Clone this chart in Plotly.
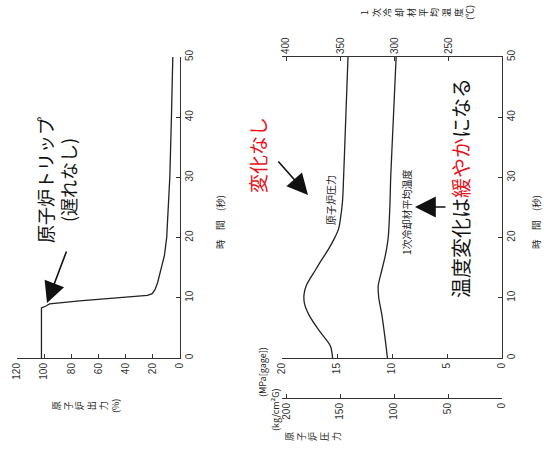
import plotly.graph_objects as go

# --- data -------------------------------------------------------------
# Reactor power (%) after trip
time_power = [0, 8.3, 8.6, 9.0, 9.5, 10.0, 10.4, 10.7, 11.3, 12.5, 14.5, 17, 20, 25, 30, 40, 50]
power_pct = [102, 102, 99, 96, 74, 47, 24, 20.5, 18.5, 16.5, 14.5, 11.5, 9.8, 8.5, 7.5, 6.3, 5.3]

# Reactor pressure (MPa[gage])
time_press = [0, 2, 4.5, 7, 9, 10.5, 12, 14.5, 16, 18, 20, 21.5, 23, 26, 30, 40, 50]
press_mpa = [15.4, 15.6, 16.6, 17.5, 17.95, 18.0, 17.8, 17.0, 16.5, 15.8, 15.2, 14.85, 14.7, 14.5, 14.4, 14.2, 14.0]

# Primary coolant average temperature (deg C)
time_temp = [0, 3, 7, 10, 12, 14, 17, 20, 25, 30, 40, 50]
temp_c = [306.5, 308.5, 311.5, 314.5, 315, 312.5, 308.5, 305.8, 304.3, 303.5, 301, 298.5]

time_ticks = [0, 10, 20, 30, 40, 50]
power_ticks = [0, 20, 40, 60, 80, 100, 120]
mpa_ticks = [0, 5, 10, 15, 20]
kg_ticks = [0, 50, 100, 150, 200]
temp_ticks = [200, 250, 300, 350, 400]

W, H = 544, 451
def px(x):
    return x / W
def py(y):
    return 1 - y / H

AX = "#333333"
TICKFONT = dict(family="Liberation Sans", size=10, color="#333333")
JP = "Noto Sans CJK JP"

fig = go.Figure()
fig.add_trace(go.Scatter(x=power_pct, y=time_power, xaxis="x", yaxis="y", mode="lines",
                         line=dict(color="#222222", width=1.3), hoverinfo="skip"))
fig.add_trace(go.Scatter(x=press_mpa, y=time_press, xaxis="x2", yaxis="y2", mode="lines",
                         line=dict(color="#222222", width=1.3, shape="spline", smoothing=0.8), hoverinfo="skip"))
fig.add_trace(go.Scatter(x=temp_c, y=time_temp, xaxis="x4", yaxis="y2", mode="lines",
                         line=dict(color="#222222", width=1.3, shape="spline", smoothing=0.8), hoverinfo="skip"))
# invisible trace so the kg/cm2G axis is drawn
fig.add_trace(go.Scatter(x=[100], y=[25], xaxis="x3", yaxis="y2", mode="markers",
                         marker=dict(opacity=0), hoverinfo="skip"))

common_x = dict(showline=True, linecolor=AX, linewidth=1, ticks="inside", ticklen=4, tickcolor=AX,
                tickangle=-90, tickfont=TICKFONT, showgrid=False, zeroline=False, automargin=False,
                fixedrange=True)
common_y = dict(showline=True, linecolor=AX, linewidth=1, ticks="inside", ticklen=4, tickcolor=AX,
                tickangle=-90, tickfont=TICKFONT, showgrid=False, zeroline=False, automargin=False,
                fixedrange=True, side="right", range=[0, 50], tickvals=time_ticks,
                domain=[py(358), py(57)])

# temperature axis range chosen so 400 and 200 sit on their marks
t_left = 400 + (286 - 282) / 1.085
t_right = 400 - (502 - 286) / 1.085

fig.update_layout(
    width=W, height=H, margin=dict(l=0, r=0, t=0, b=0),
    template="none", paper_bgcolor="white", plot_bgcolor="rgba(0,0,0,0)",
    showlegend=False,
    xaxis=dict(common_x, domain=[px(17), px(180)], range=[120, 0], tickvals=power_ticks, anchor="y"),
    yaxis=dict(common_y, anchor="x"),
    xaxis2=dict(common_x, domain=[px(282), px(502)], range=[20, 0], tickvals=mpa_ticks, anchor="y2"),
    yaxis2=dict(common_y, anchor="x2"),
    xaxis3=dict(common_x, overlaying="x2", anchor="free", position=py(398),
                range=[20 / 0.0980665, 0], tickvals=kg_ticks),
    xaxis4=dict(common_x, overlaying="x2", side="top", anchor="y2",
                range=[t_left, t_right], tickvals=temp_ticks),
)

ann = []
def label(text, x, y, size, color="#222222", angle=-90, family=JP):
    ann.append(dict(text=text, x=px(x), y=py(y), xref="paper", yref="paper", showarrow=False,
                    textangle=angle, font=dict(family=family, size=size, color=color),
                    xanchor="center", yanchor="middle"))

def stacked(chars):
    return "<br>".join(chars)

# axis titles
label(stacked(["原", "子", "炉", "出", "力", "(%)"]), 86, 406, 9)
label("時　間　(秒)", 220, 222, 9.5)
label("時　間　(秒)", 536, 222, 9.5)
label(stacked(["1", "次", "冷", "却", "材", "平", "均", "温", "度", "(℃)"]), 417, 13, 9)
label("(MPa[gage])", 262, 372, 9)
label("(kg/cm²G)", 275, 410, 9)
label(stacked(["原", "子", "炉", "圧", "力"]), 313, 437, 9)

# curve labels
label("原子炉圧力", 330, 200, 10)
label("1次冷却材平均温度", 406, 212, 10)

# callouts
label("原子炉トリップ<br>(遅れなし)", 56, 180, 18, color="#111111")
label("変化なし", 257, 155, 19, color="#e8121b")
label("温度変化は<span style='color:#e8121b'>緩やか</span>になる", 460, 188, 20, color="#111111")

def arrow(tip, tail):
    ann.append(dict(x=px(tip[0]), y=py(tip[1]), xref="paper", yref="paper", text="",
                    showarrow=True, ax=tail[0] - tip[0], ay=tail[1] - tip[1],
                    arrowhead=2, arrowsize=2.6, arrowwidth=1.6, arrowcolor="#111111"))

arrow((47, 303), (67, 250))
arrow((308, 195), (277, 160))
arrow((415, 207), (447, 207))

fig.update_layout(annotations=ann)
fig.write_html("out.html")
